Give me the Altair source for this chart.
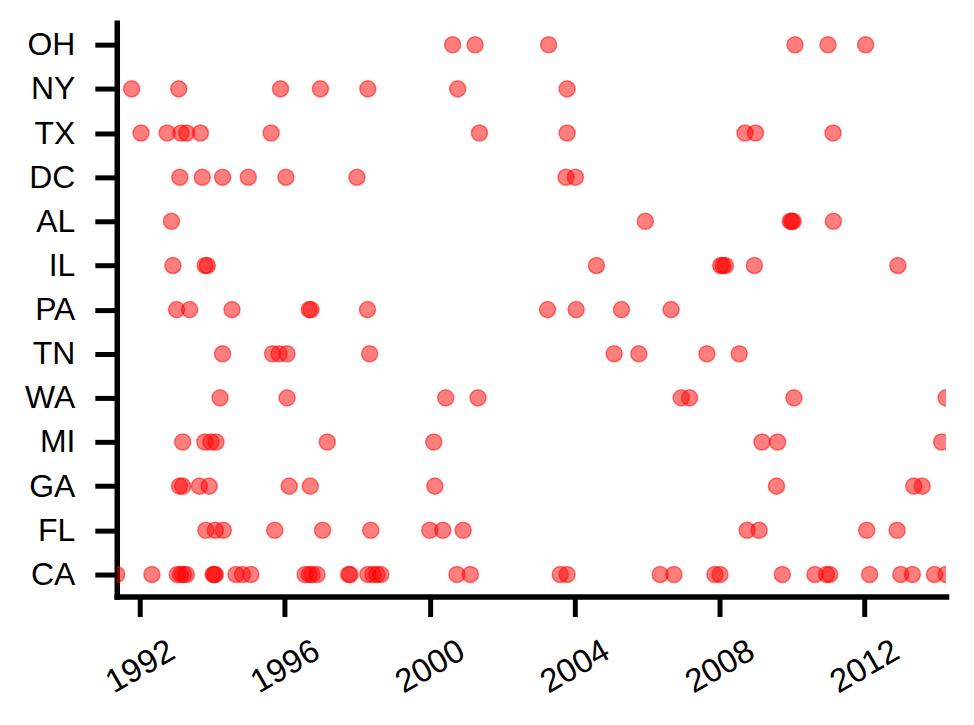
import altair as alt
import pandas as pd

# State order from top to bottom
states = ["OH", "NY", "TX", "DC", "AL", "IL", "PA", "TN", "WA", "MI", "GA", "FL", "CA"]

# Event times (decimal years) per state
OH = [2000.63, 2001.25, 2003.28, 2010.08, 2010.99, 2012.03]
NY = [1991.77, 1993.07, 1995.88, 1996.98, 1998.29, 2000.77, 2003.79]
TX = [1992.03, 1992.75, 1993.13, 1993.29, 1993.67, 1995.62, 2001.37, 2003.79,
      2008.70, 2008.99, 2011.13]
DC = [1993.10, 1993.72, 1994.28, 1994.99, 1996.03, 1997.99, 2003.76, 2004.02]
AL = [1992.87, 2005.95, 2009.95, 2009.99, 2010.03, 2011.14]
IL = [1992.91, 1993.80, 1993.86, 2004.60, 2008.03, 2008.09, 2008.16, 2008.96, 2012.92]
PA = [1993.01, 1993.37, 1994.54, 1996.67, 1996.72, 1998.28, 2003.25, 2004.04,
      2005.29, 2006.66]
TN = [1994.28, 1995.66, 1995.84, 1996.06, 1998.34, 2005.09, 2005.77, 2007.65, 2008.54]
WA = [1994.21, 1996.06, 2000.44, 2001.33, 2006.94, 2007.17, 2010.05, 2014.25]
MI = [1993.18, 1993.79, 1993.96, 1994.10, 1997.17, 2000.11, 2009.17, 2009.60, 2014.13]
GA = [1993.09, 1993.18, 1993.64, 1993.91, 1996.12, 1996.70, 2000.14, 2009.57,
      2013.36, 2013.59]
FL = [1993.82, 1994.08, 1994.30, 1995.72, 1997.04, 1998.37, 2000.00, 2000.36,
      2000.92, 2008.76, 2009.09, 2012.06, 2012.90]
CA = [1991.36, 1992.33, 1993.03, 1993.12, 1993.20, 1993.28, 1994.02, 1994.05,
      1994.08, 1994.65, 1994.83, 1995.06, 1996.56, 1996.67, 1996.75, 1996.89,
      1997.76, 1997.80, 1998.29, 1998.43, 1998.54, 1998.65, 2000.75, 2001.12,
      2003.60, 2003.79, 2006.36, 2006.74, 2007.87, 2008.01, 2009.73, 2010.63,
      2010.95, 2011.04, 2012.14, 2013.00, 2013.32, 2013.93, 2014.25]

tick_years = [1992, 1996, 2000, 2004, 2008, 2012]
x_domain = [1991.36, 2014.25]

series = {"OH": OH, "NY": NY, "TX": TX, "DC": DC, "AL": AL, "IL": IL, "PA": PA,
          "TN": TN, "WA": WA, "MI": MI, "GA": GA, "FL": FL, "CA": CA}
rows = [{"state": s, "year": v} for s in states for v in series[s]]
df = pd.DataFrame(rows)

FONT = "Liberation Sans"

chart = alt.Chart(df).mark_point(
    shape="circle", filled=False, fill="red", fillOpacity=0.5,
    stroke="red", strokeOpacity=0.5, strokeWidth=1.5, size=260, clip=True
).encode(
    x=alt.X("year:Q",
            scale=alt.Scale(domain=x_domain, nice=False, zero=False),
            axis=alt.Axis(values=tick_years, format="d", title=None,
                          labelAngle=330, labelAlign="center", labelBaseline="middle",
                          tickSize=20, labelPadding=50, labelFontSize=33)),
    y=alt.Y("state:N", sort=states,
            scale=alt.Scale(type="point", padding=0.5),
            axis=alt.Axis(title=None, tickSize=22, labelPadding=20, labelFontSize=32))
).properties(
    width=831, height=575,
    autosize=alt.AutoSizeParams(type="none"),
    padding={"left": 109, "top": 14, "right": 20, "bottom": 110}
).configure_view(
    stroke=None
).configure_axis(
    grid=False, domainColor="black", domainWidth=5.5, domainCap="square",
    tickColor="black", tickWidth=5, labelColor="black", labelFont=FONT
)

chart.save("out.html", embed_options={"renderer": "svg", "actions": False})
